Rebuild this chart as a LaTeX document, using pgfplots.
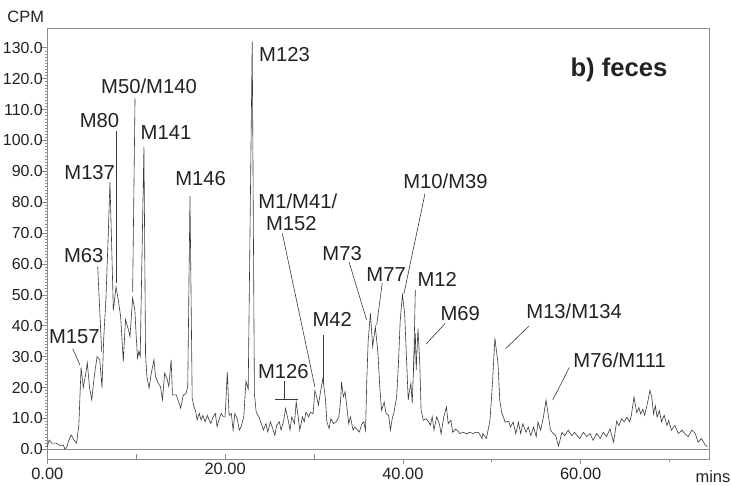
\documentclass[border=0pt]{standalone}
\usepackage{fontspec}
\setmainfont{Liberation Sans}
\usepackage{pgfplots}
\pgfplotsset{compat=1.18}
\definecolor{txt}{HTML}{222222}
\definecolor{frm}{HTML}{8C8C8C}
\definecolor{trc}{HTML}{3A3A3A}
\newcommand\lbl{\fontsize{20.3}{24}\selectfont}
\newcommand\tkl{\fontsize{16.5}{19}\selectfont}

\begin{document}
\begin{tikzpicture}
\useasboundingbox (0,0) rectangle (731bp,486bp);
\begin{axis}[
  at={(47.3bp,26.7bp)}, anchor=south west,
  scale only axis, width=662bp, height=431.3bp,
  xmin=0, xmax=74.47, ymin=-3.24, ymax=136.4,
  clip=false,
  axis line style={frm, line width=0.8bp},
  xtick={0,40,60}, xticklabels={0.00,40.00,60.00},
  minor xtick={50,70},
  extra x ticks={10,20,30}, extra x tick labels={,20.00,},
  extra x tick style={tick align=inside},
  ytick={0,10,20,30,40,50,60,70,80,90,100,110,120,130},
  yticklabels={0.0,10.0,20.0,30.0,40.0,50.0,60.0,70.0,80.0,90.0,100.0,110.0,120.0,130.0},
  minor y tick num=9,
  tick align=outside, tick pos=left,
  major tick length=5bp, minor tick length=2.5bp,
  every tick/.style={frm, line width=0.6bp},
  tick label style={font=\tkl, text=txt},
  yticklabel style={font=\fontsize{16}{19}\selectfont, xshift=4bp},
]
% zero line
\addplot[frm, line width=0.8bp] coordinates {(0,0) (74.47,0)};
% radiochromatogram trace
\addplot[trc, line width=0.6bp] coordinates {
(0,0.8)(0.2,3)(0.5,2)(1.0,2)(1.4,1.3)(1.8,1.3)(2.0,0)(2.2,0.8)(2.5,3.5)(2.7,4.6)
(3.0,3)(3.3,2)(3.55,8)(3.8,26.5)(4.05,20)(4.3,24)(4.5,28)(4.75,20)(5.0,16)(5.3,24)
(5.6,30)(5.9,29)(6.15,20)(6.35,36)(6.6,49)(6.85,69)(7.05,86.5)(7.25,65)(7.43,45)(7.73,52.6)
(8.0,48)(8.25,43)(8.55,28.5)(8.8,42)(9.1,39)(9.3,36.5)(9.6,49)(9.85,45)(10.0,36.6)(10.15,29.5)
(10.3,31.7)(10.45,30)(10.87,98)(11.05,31)(11.2,23.6)(11.45,19.8)(11.7,24.7)(12.0,29)(12.17,23.6)(12.47,21.4)
(12.73,20.3)(12.96,16)(13.2,24.7)(13.5,22.5)(13.67,20.3)(13.93,29)(14.08,17.6)(14.5,17.6)(14.7,16)(15.0,13.3)
(15.3,17.6)(15.6,18)(15.8,20.3)(16.05,82)(16.3,16.5)(16.5,13.8)(16.7,12.2)(16.85,9.5)(17.1,11.6)(17.3,9.5)
(17.5,11)(17.75,8.9)(18.0,11)(18.2,9.5)(18.4,8.4)(18.65,10.5)(18.9,11.6)(19.1,7.3)(19.3,9.5)(19.55,11.6)
(19.8,10.5)(20.0,10.5)(20.25,25)(20.45,11)(20.7,11.6)(20.9,6.2)(21.1,11.6)(21.35,10)(21.6,6.2)(21.8,7.3)
(22.1,10.5)(22.35,22)(22.6,19.5)(23.05,132)(23.3,18)(23.5,12)(23.8,10.5)(24.0,8.9)(24.3,6.2)(24.6,8.3)
(24.8,5.6)(25.1,8.9)(25.3,7.2)(25.6,4.5)(25.8,7.8)(26.1,8.9)(26.3,6.2)(26.6,9.4)(26.8,13.2)(27.1,9.4)
(27.3,6.2)(27.5,10.5)(27.8,8.3)(28.0,15.3)(28.2,11)(28.4,6.2)(28.7,10.5)(28.9,8.9)(29.1,12)(29.4,10.5)
(29.6,12)(29.9,11.5)(30.1,19)(30.3,17)(30.5,14.3)(30.7,18)(31.0,22.9)(31.3,15.9)(31.45,8.9)(31.7,6.7)
(31.9,9.9)(32.2,8.3)(32.5,8.9)(32.8,10.5)(33.0,15.9)(33.1,21.8)(33.3,17)(33.5,18.6)(33.7,13.7)(33.9,8.3)
(34.1,10.5)(34.4,6.2)(34.6,7.2)(34.9,6.2)(35.1,5.6)(35.4,8.3)(35.6,8.9)(35.8,6.2)(35.95,23.4)(36.1,35.3)
(36.35,44)(36.6,33.2)(36.9,39.6)(37.2,31)(37.4,20.2)(37.6,12.6)(37.9,15.3)(38.1,11.6)(38.4,11)(38.6,6.2)
(38.8,9.9)(39.0,12)(39.3,17)(39.5,27.8)(39.7,41.8)(39.95,50)(40.2,44)(40.4,29.9)(40.6,16)(40.75,19)
(40.9,21.3)(41.05,15)(41.25,30)(41.4,37.5)(41.5,25.6)(41.7,39.1)(41.9,27.8)(42.05,12.6)(42.3,9.4)(42.6,9.9)
(42.9,8.9)(43.1,7.8)(43.3,10.5)(43.5,6.2)(43.8,10.5)(44.1,8.3)(44.3,5)(44.6,10.5)(44.9,13.7)(45.1,8.3)
(45.4,9.4)(45.6,5.5)(45.9,6.5)(46.1,6.2)(46.4,5.1)(46.8,5.5)(47.2,5)(47.5,5.5)(47.9,5.1)(48.2,5.5)
(48.5,5.5)(48.9,3.5)(49.0,5.1)(49.4,3.5)(49.8,9.4)(50.1,22.4)(50.35,36)(50.7,27.8)(50.9,15.9)(51.1,12.1)
(51.5,8.8)(51.9,9.1)(52.1,7.2)(52.4,8.8)(52.7,5.1)(53.0,8.8)(53.25,5.1)(53.5,8.3)(53.85,5.5)(54.1,7.2)
(54.4,4.4)(54.7,7.2)(55.0,4.1)(55.2,8.8)(55.5,6.2)(55.8,10.3)(56.1,15.9)(56.4,10.3)(56.6,6.2)(56.9,5.1)
(57.2,4.4)(57.5,1)(57.9,5.5)(58.2,4.4)(58.6,6.2)(59.0,4.4)(59.3,5.5)(59.6,4.4)(59.9,3.5)(60.3,5.5)
(60.7,4.1)(61.05,5.1)(61.4,2.9)(61.8,5.1)(62.2,3.5)(62.55,5.5)(62.9,4.1)(63.3,6.6)(63.7,2.3)(64.05,9.1)
(64.3,7.7)(64.6,9.9)(64.9,8.9)(65.2,10.4)(65.5,8.9)(65.7,11)(66.0,16.9)(66.3,11.9)(66.55,13.5)(66.75,11.4)
(67.0,13)(67.2,11)(67.5,14.8)(67.8,19.1)(68.0,16.9)(68.2,11.4)(68.4,14.1)(68.6,10.4)(68.85,12.5)(69.1,8.9)
(69.4,11)(69.7,7.7)(69.9,9.3)(70.2,6.2)(70.6,7.7)(71.0,5.1)(71.4,6.2)(71.7,5.1)(72.1,4.1)(72.5,6.2)
(72.9,5.1)(73.2,2.3)(73.6,3.5)(74.0,1.4)(74.25,0.9)
};
% peak labels
\begin{scope}[every node/.style={font=\lbl, text=txt, anchor=base, inner sep=0pt}]
\node at (axis cs:3.04,34.2) {M157};
\node at (axis cs:4.1,60.4) {M63};
\node at (axis cs:4.77,87.5) {M137};
\node at (axis cs:5.87,104.2) {M80};
\node at (axis cs:11.44,115.2) {M50/M140};
\node at (axis cs:13.35,100.3) {M141};
\node at (axis cs:17.25,85.5) {M146};
\node at (axis cs:26.68,125.5) {M123};
\node at (axis cs:28.18,78.0) {M1/M41/};
\node at (axis cs:27.45,70.9) {M152};
\node at (axis cs:32.05,39.6) {M42};
\node at (axis cs:26.55,22.9) {M126};
\node at (axis cs:33.17,61.2) {M73};
\node at (axis cs:38.12,54.2) {M77};
\node at (axis cs:44.8,84.4) {M10/M39};
\node at (axis cs:43.86,52.6) {M12};
\node at (axis cs:46.46,41.8) {M69};
\node at (axis cs:59.27,42.3) {M13/M134};
\node at (axis cs:64.39,26.5) {M76/M111};
\node[font=\fontsize{25.7}{30}\selectfont\bfseries] at (axis cs:64.3,120.8) {b) feces};
\node[font=\tkl] at (axis cs:-2.43,138.3) {CPM};
\node[font=\tkl] at (axis cs:74.88,-10.6) {mins};
\end{scope}
% leader lines
\begin{scope}[trc, line width=0.6bp]
\draw (axis cs:2.86,32.6) -- (axis cs:3.68,27.2);
\draw (axis cs:5.67,59.1) -- (axis cs:6.12,31.5);
\draw (axis cs:7.8,103) -- (axis cs:7.8,53.7);
\draw (axis cs:9.87,113.6) -- (axis cs:9.6,51);
\draw (axis cs:26.44,69.9) -- (axis cs:30.1,20.2);
\draw (axis cs:31.05,36.9) -- (axis cs:31.05,21.8);
\draw (axis cs:26.63,22.1) -- (axis cs:26.63,16.2);
\draw (axis cs:25.61,16.2) -- (axis cs:28.23,16.2);
\draw (axis cs:33.94,60.7) -- (axis cs:35.93,41.8);
\draw (axis cs:37.68,53.9) -- (axis cs:37.05,40.2);
\draw (axis cs:42.49,82.8) -- (axis cs:40.12,50.4);
\draw (axis cs:41.4,51.5) -- (axis cs:41.2,24.5);
\draw (axis cs:44.74,40.7) -- (axis cs:42.6,34);
\draw (axis cs:54.19,39.9) -- (axis cs:51.56,32.6);
\draw (axis cs:58.72,26.5) -- (axis cs:56.85,15.9);
\end{scope}
\end{axis}
\end{tikzpicture}
\end{document}
